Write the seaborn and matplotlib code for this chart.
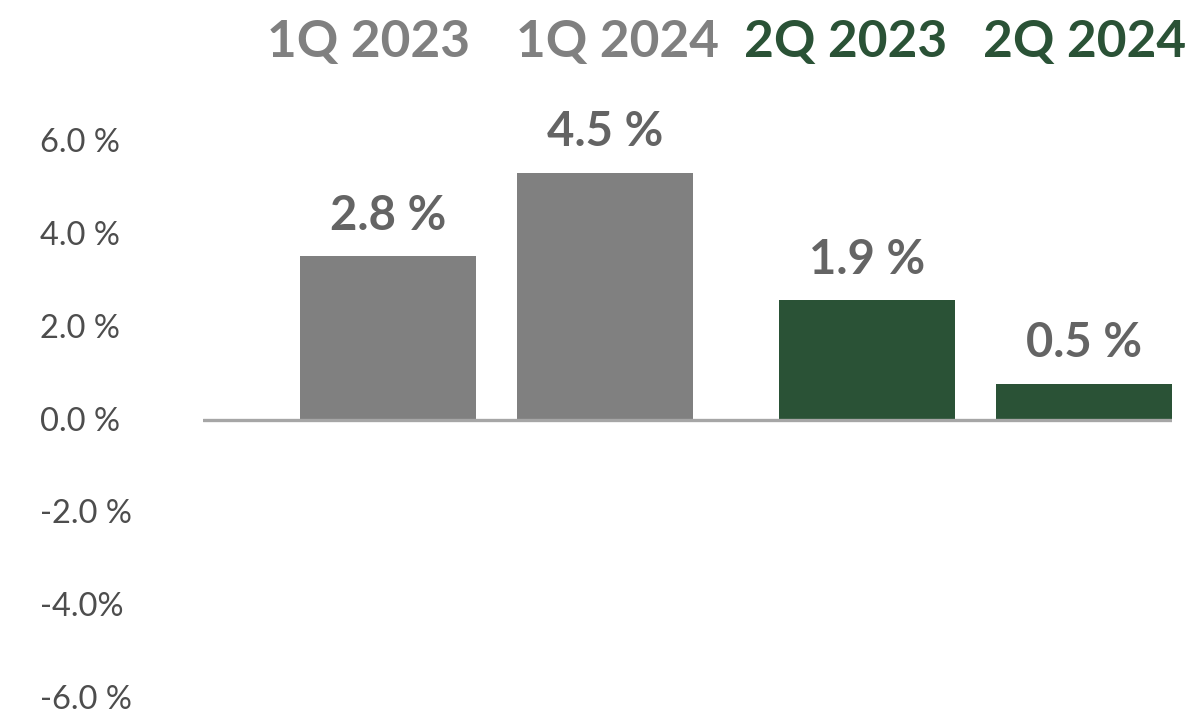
import matplotlib
matplotlib.use("Agg")
import matplotlib.pyplot as plt
import matplotlib.transforms as mtransforms
import seaborn as sns
import pandas as pd

# ---- data ----
categories = ["1Q 2023", "1Q 2024", "2Q 2023", "2Q 2024"]
bar_heights = [3.5, 5.3, 2.55, 0.75]           # bar heights as drawn (axis units, %)
value_labels = ["2.8 %", "4.5 %", "1.9 %", "0.5 %"]
tick_values = [6, 4, 2, 0, -2, -4, -6]
tick_labels = ["6.0 %", "4.0 %", "2.0 %", "0.0 %", "-2.0 %", "-4.0%", "-6.0 %"]

# ---- layout / style ----
positions = [0.0, 1.0, 2.205, 3.205]
header_offsets = [-0.09, 0.055, -0.10, 0.0]
GRAY = "#808080"
GREEN = "#2a5236"
colors = [GRAY, GRAY, GREEN, GREEN]

sns.set_theme(style="white")
plt.rcParams["font.family"] = ["Lato", "DejaVu Sans"]

fig = plt.figure(figsize=(12, 7.15), dpi=100)
ax = fig.add_axes([0.169, 0.012, 0.808, 0.8245])

df = pd.DataFrame({"pos": positions, "val": bar_heights, "cat": categories})
sns.barplot(data=df, x="pos", y="val", hue="cat", palette=dict(zip(categories, colors)),
            native_scale=True, width=0.81, legend=False, saturation=1, ax=ax,
            edgecolor="none", linewidth=0)

ax.set_xlim(-0.853, 3.61)
ax.set_ylim(-6.2, 6.5)
ax.axhline(-0.03, color="#a6a6a6", lw=2.4, zorder=3)

for s in ax.spines.values():
    s.set_visible(False)
ax.set_xticks([])
ax.set_xlabel("")
ax.set_ylabel("")
ax.set_yticks(tick_values)
ax.set_yticklabels(tick_labels)
ax.tick_params(axis="y", length=0, pad=117, labelsize=23.5, labelcolor="#4d4d4d")
for lab in ax.get_yticklabels():
    lab.set_horizontalalignment("left")

# value labels above bars
for p, h, lab in zip(positions, bar_heights, value_labels):
    ax.annotate(lab, (p, h), xytext=(0, 19), textcoords="offset points",
                ha="center", va="baseline", fontsize=34, fontweight="bold",
                color="#646464")

# headers
trans = mtransforms.blended_transform_factory(ax.transData, fig.transFigure)
for p, off, cat, c in zip(positions, header_offsets, categories, colors):
    ax.text(p + off, 0.941, cat, transform=trans, ha="center", va="center",
            fontsize=37, fontweight="bold", color=c)

fig.savefig("out.png", dpi=100)
